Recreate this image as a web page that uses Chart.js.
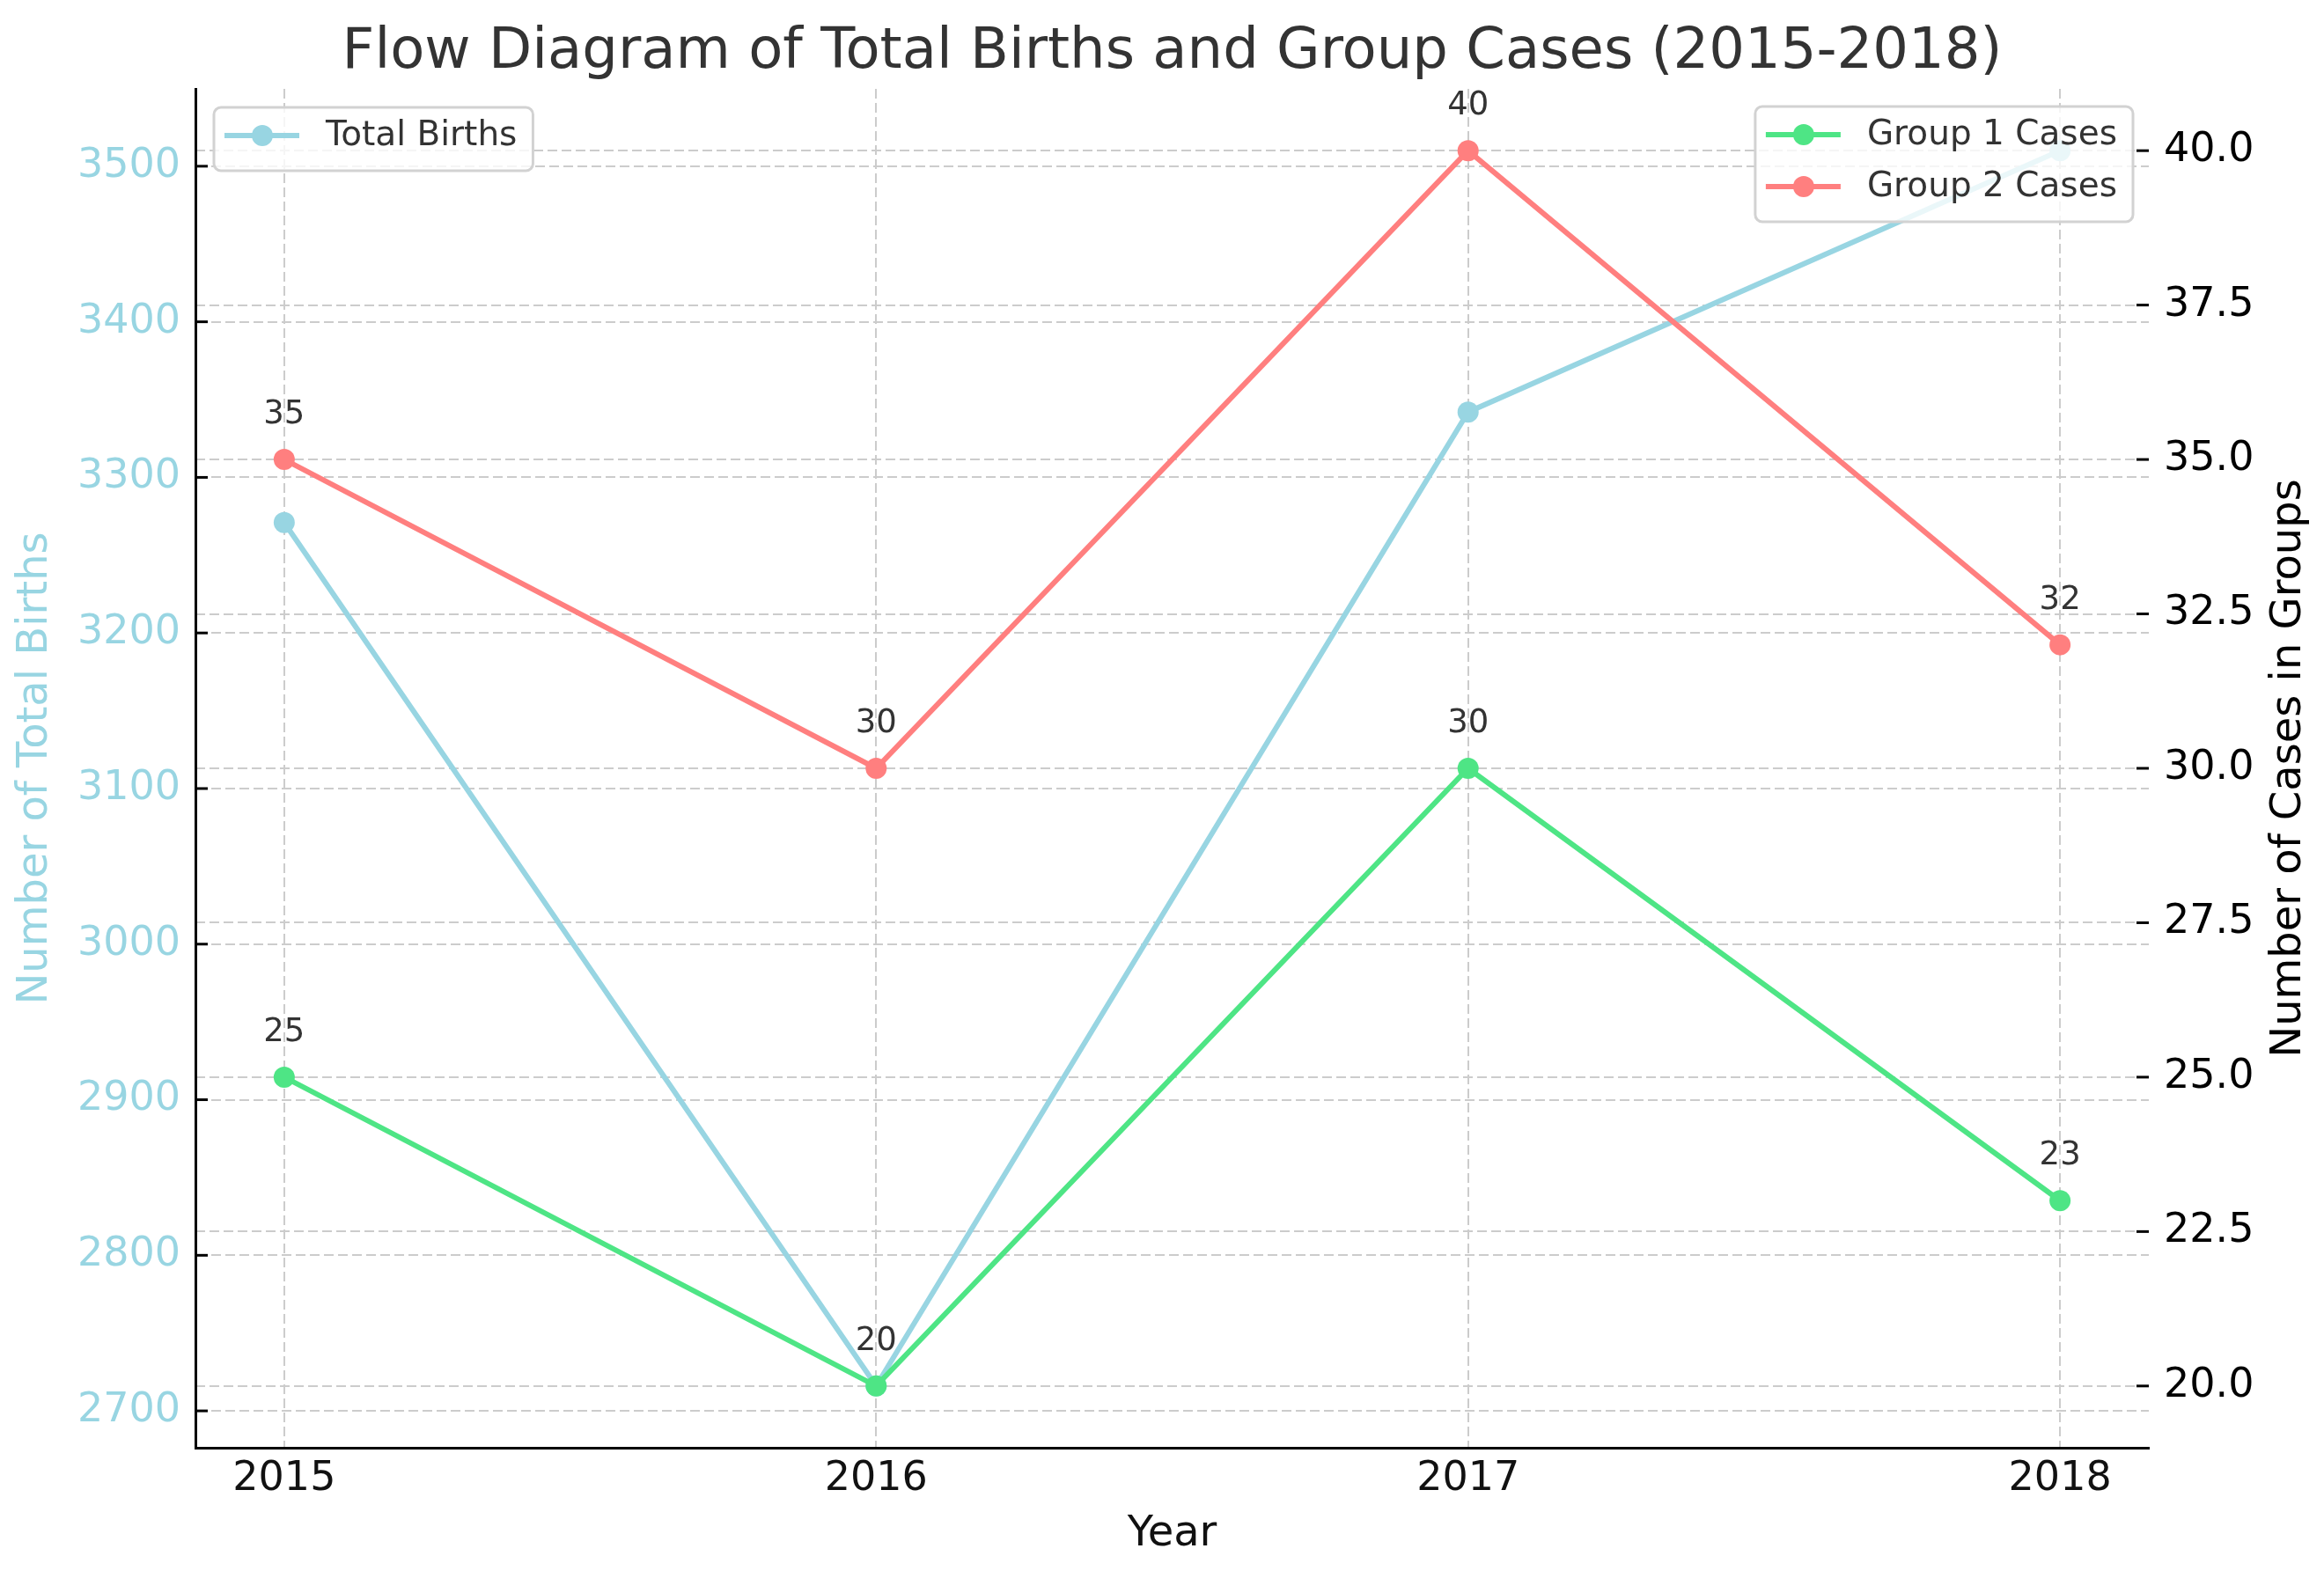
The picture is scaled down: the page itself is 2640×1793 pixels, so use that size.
<!DOCTYPE html>
<html>
<head>
<meta charset="utf-8">
<title>Total Births and Group Cases</title>
<script src="https://cdn.jsdelivr.net/npm/chart.js@4.4.0/dist/chart.umd.min.js"></script>
<style>
  html, body { margin: 0; padding: 0; background: #fff; }
  canvas { display: block; }
</style>
</head>
<body>
<canvas id="myChart" width="2640" height="1793"></canvas>
<script>
// data
const years = [2015, 2016, 2017, 2018];
const totalBirths = [3271, 2716, 3342, 3510];
const group1Cases = [25, 20, 30, 23];
const group2Cases = [35, 30, 40, 32];
const birthTicks = [2700, 2800, 2900, 3000, 3100, 3200, 3300, 3400, 3500];
const caseTicks = [20, 22.5, 25, 27.5, 30, 32.5, 35, 37.5, 40];

const BLUE = '#98d5e2';
const GREEN = '#4ee585';
const RED = '#ff7f7f';
const FONT = 'DejaVu Sans';
const GRID = '#cccccc';

// matplotlib-like 5% margins around the data
function padRange(arr) {
  const lo = Math.min(...arr), hi = Math.max(...arr);
  const p = (hi - lo) * 0.05;
  return [lo - p, hi + p];
}
const xRange = padRange(years);
const birthRange = padRange(totalBirths);
const caseRange = padRange(group1Cases.concat(group2Cases));

function points(values) {
  return years.map((x, i) => ({ x: x, y: values[i] }));
}

function lineSet(label, values, color, axis, order) {
  return {
    label: label,
    data: points(values),
    yAxisID: axis,
    order: order,
    borderColor: color,
    backgroundColor: color,
    pointBackgroundColor: color,
    pointBorderWidth: 0,
    pointRadius: 12,
    borderWidth: 6,
    tension: 0
  };
}

function makeLegend(ctx, items, top) {
  ctx.save();
  ctx.font = '39px ' + FONT;
  let textW = 0;
  items.forEach(it => { textW = Math.max(textW, ctx.measureText(it.label).width); });
  ctx.restore();
  const w = 127 + textW + 18;
  const h = 59 * items.length + 13;
  return { w: w, h: h, draw: function (bx) {
    ctx.save();
    ctx.beginPath();
    ctx.roundRect(bx, top, w, h, 8);
    ctx.fillStyle = 'rgba(255,255,255,0.8)';
    ctx.fill();
    ctx.lineWidth = 3;
    ctx.strokeStyle = '#d2d2d2';
    ctx.stroke();
    items.forEach((it, i) => {
      const cy = top + 32 + i * 59;
      ctx.strokeStyle = it.color;
      ctx.lineWidth = 6;
      ctx.beginPath();
      ctx.moveTo(bx + 12, cy);
      ctx.lineTo(bx + 97, cy);
      ctx.stroke();
      ctx.fillStyle = it.color;
      ctx.beginPath();
      ctx.arc(bx + 55, cy, 12, 0, Math.PI * 2);
      ctx.fill();
      ctx.fillStyle = '#333';
      ctx.font = '39px ' + FONT;
      ctx.textBaseline = 'middle';
      ctx.textAlign = 'left';
      ctx.fillText(it.label, bx + 127, cy + 1);
    });
    ctx.restore();
  } };
}

const decorations = {
  id: 'decorations',
  beforeDatasetsDraw(chart) {
    // inward tick marks on both y axes
    const ctx = chart.ctx, area = chart.chartArea;
    ctx.save();
    ctx.strokeStyle = '#000';
    ctx.lineWidth = 3;
    chart.scales.y.ticks.forEach(t => {
      const py = chart.scales.y.getPixelForValue(t.value);
      ctx.beginPath(); ctx.moveTo(area.left, py); ctx.lineTo(area.left + 14, py); ctx.stroke();
    });
    chart.scales.y2.ticks.forEach(t => {
      const py = chart.scales.y2.getPixelForValue(t.value);
      ctx.beginPath(); ctx.moveTo(area.right - 14, py); ctx.lineTo(area.right, py); ctx.stroke();
    });
    ctx.restore();
  },
  afterDatasetsDraw(chart) {
    const ctx = chart.ctx, area = chart.chartArea;
    // value labels above the group points
    ctx.save();
    ctx.font = '37px ' + FONT;
    ctx.fillStyle = '#333';
    ctx.textAlign = 'center';
    ctx.textBaseline = 'alphabetic';
    [1, 2].forEach(di => {
      const meta = chart.getDatasetMeta(di);
      const vals = chart.data.datasets[di].data;
      meta.data.forEach((pt, i) => {
        ctx.fillText(String(vals[i].y), pt.x, pt.y - 41);
      });
    });
    ctx.restore();

    const ds = chart.data.datasets;
    const leftLeg = makeLegend(ctx, [{ label: ds[0].label, color: ds[0].borderColor }], area.top + 21);
    leftLeg.draw(area.left + 21);
    const rightLeg = makeLegend(ctx, [
      { label: ds[1].label, color: ds[1].borderColor },
      { label: ds[2].label, color: ds[2].borderColor }
    ], area.top + 20);
    rightLeg.draw(area.right - 18 - rightLeg.w);
  },
  afterDraw(chart) {
    const ctx = chart.ctx, area = chart.chartArea;
    ctx.save();
    ctx.fillStyle = '#333';
    ctx.font = '64px ' + FONT;
    ctx.textAlign = 'center';
    ctx.textBaseline = 'alphabetic';
    ctx.fillText('Flow Diagram of Total Births and Group Cases (2015-2018)', (area.left + area.right) / 2, 77);
    // right axis title reads bottom to top
    ctx.translate(chart.width - 39, (area.top + area.bottom) / 2);
    ctx.rotate(-Math.PI / 2);
    ctx.fillStyle = '#000';
    ctx.font = '48px ' + FONT;
    ctx.textBaseline = 'middle';
    ctx.fillText('Number of Cases in Groups', 0, 0);
    ctx.restore();
  }
};

const ctx = document.getElementById('myChart');
new Chart(ctx, {
  type: 'line',
  data: {
    datasets: [
      lineSet('Total Births', totalBirths, BLUE, 'y', 2),
      lineSet('Group 1 Cases', group1Cases, GREEN, 'y2', 1),
      lineSet('Group 2 Cases', group2Cases, RED, 'y2', 0)
    ]
  },
  options: {
    responsive: false,
    devicePixelRatio: 1,
    animation: false,
    events: [],
    layout: { padding: { top: 101, left: 0, right: 0, bottom: 0 } },
    plugins: {
      legend: { display: false },
      tooltip: { enabled: false },
      title: { display: false }
    },
    scales: {
      x: {
        type: 'linear',
        min: xRange[0],
        max: xRange[1],
        afterBuildTicks: s => { s.ticks = years.map(v => ({ value: v })); },
        afterFit: s => { s.height = 148; },
        grid: { color: GRID, lineWidth: 2, drawTicks: false },
        border: { display: true, color: '#000', width: 3, dash: [11, 5] },
        ticks: {
          autoSkip: false, maxRotation: 0, padding: 8, color: '#111',
          font: { family: FONT, size: 46 },
          callback: v => String(v)
        },
        title: {
          display: true, text: 'Year', color: '#111',
          font: { family: FONT, size: 48 }, padding: { top: 0, bottom: 21 }
        }
      },
      y: {
        position: 'left',
        min: birthRange[0],
        max: birthRange[1],
        afterBuildTicks: s => { s.ticks = birthTicks.map(v => ({ value: v })); },
        afterFit: s => { s.width = 222; },
        grid: { color: GRID, lineWidth: 2, drawTicks: false },
        border: { display: true, color: '#000', width: 3, dash: [11, 5] },
        ticks: {
          padding: 17, color: BLUE,
          font: { family: FONT, size: 46 },
          callback: v => String(v)
        },
        title: {
          display: true, text: 'Number of Total Births', color: BLUE,
          font: { family: FONT, size: 48 }, padding: { top: 12, bottom: 0 }
        }
      },
      y2: {
        position: 'right',
        min: caseRange[0],
        max: caseRange[1],
        afterBuildTicks: s => { s.ticks = caseTicks.map(v => ({ value: v })); },
        afterFit: s => { s.width = 199; },
        grid: { color: GRID, lineWidth: 2, drawTicks: false },
        border: { display: false, dash: [11, 5] },
        ticks: {
          padding: 17, color: '#000',
          font: { family: FONT, size: 46 },
          callback: v => v.toFixed(1)
        }
      }
    }
  },
  plugins: [decorations]
});
</script>
</body>
</html>
